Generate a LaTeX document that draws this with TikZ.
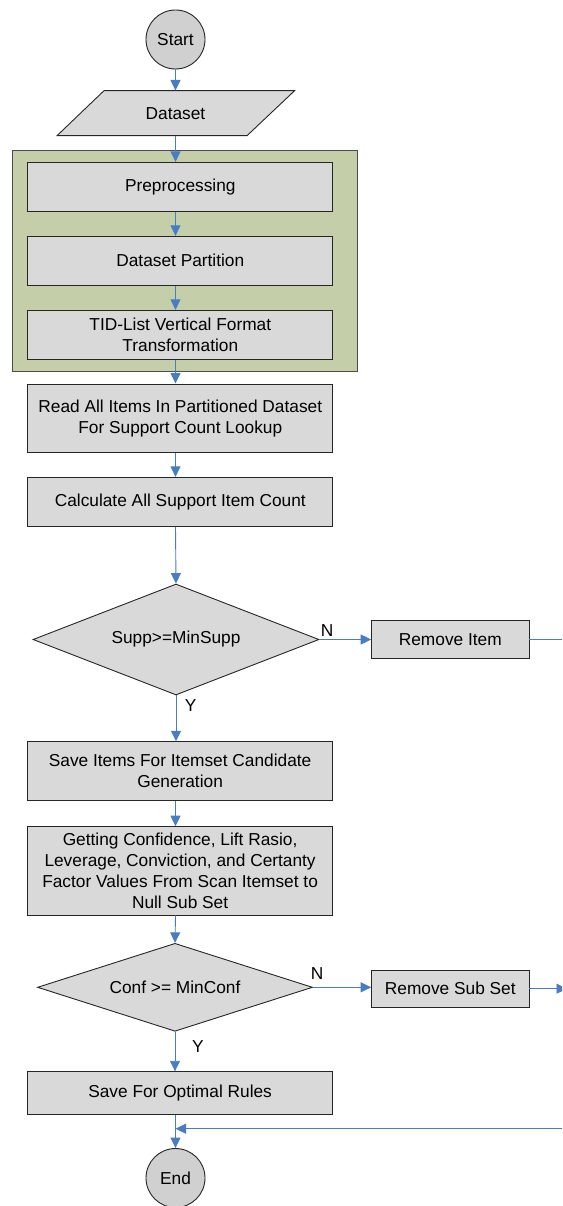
\documentclass[tikz,border=0pt]{standalone}
\usepackage{fontspec}
\setmainfont{Liberation Sans}
\usetikzlibrary{arrows.meta,shapes.geometric}
\definecolor{boxgray}{RGB}{217,217,217}
\definecolor{circgray}{RGB}{208,208,208}
\definecolor{panelgreen}{RGB}{196,206,168}
\definecolor{arrblue}{RGB}{72,125,198}
\begin{document}
\begin{tikzpicture}[x=1pt,y=-1pt,
  font=\fontsize{17.3}{20.8}\selectfont,
  shapeborder/.style={draw=black!85, line width=0.9pt},
  proc/.style={shapeborder, fill=boxgray, rectangle, minimum width=305pt, inner sep=0pt, align=center},
  sideproc/.style={shapeborder, fill=boxgray, rectangle, minimum width=157.3pt, inner sep=0pt, align=center},
  term/.style={shapeborder, fill=circgray, circle, minimum size=59pt, inner sep=0pt},
  decision/.style={shapeborder, fill=boxgray, diamond, inner sep=0pt},
  panel/.style={draw=black!70, line width=0.9pt, fill=panelgreen, rectangle, inner sep=0pt},
  conn/.style={draw=arrblue, line width=0.9pt},
  arr/.style={conn, -{Triangle[length=10.5pt,width=10pt]}},
  lbl/.style={inner sep=0pt}
]
\useasboundingbox (0,0) rectangle (562,1206);
\clip (0,0) rectangle (562,1206);

% panel
\node[panel, minimum width=344.3pt, minimum height=221.3pt] (panel) at (184.85,260.65) {};

% terminals and input
\node[term] (start) at (175.5,39.5) {Start};
\draw[shapeborder, fill=boxgray] (104,90.7) -- (294.6,90.7) -- (247,135.7) -- (57,135.7) -- cycle;
\node[inner sep=0pt, minimum width=190pt, minimum height=45pt] (data) at (175.5,113.2) {Dataset};

% process boxes
\node[proc, minimum height=49pt] (pre) at (180.3,186.8) {Preprocessing};
\node[proc, minimum height=49pt] (part) at (180.3,260.8) {Dataset Partition};
\node[proc, minimum height=48.7pt] (tid) at (180.3,334.7) {TID-List Vertical Format\\Transformation};
\node[proc, minimum height=68.7pt] (read) at (180.3,418.3) {Read All Items In Partitioned Dataset\\For Support Count Lookup};
\node[proc, minimum height=49pt] (calc) at (180.3,501.8) {Calculate All Support Item Count};

\node[decision, minimum width=286pt, minimum height=111pt, aspect=2.6] (supp) at (176,639.5) {Supp>=MinSupp};
\node[sideproc, minimum height=38pt] (rmi) at (450.3,639.7) {Remove Item};

\node[proc, minimum width=305pt, minimum height=58.6pt] (save) at (180.1,771) {Save Items For Itemset Candidate\\Generation};
\node[proc, minimum width=305pt, minimum height=88.3pt] (get) at (180.1,870.8) {Getting Confidence, Lift Rasio,\\Leverage, Conviction, and Certanty\\Factor Values From Scan Itemset to\\Null Sub Set};

\node[decision, minimum width=275pt, minimum height=88pt, aspect=3.1] (conf) at (175,987.3) {Conf >= MinConf};
\node[sideproc, minimum height=37.3pt] (rss) at (450.3,988.7) {Remove Sub Set};

\node[proc, minimum width=305pt, minimum height=42.3pt] (opt) at (180.1,1092.9) {Save For Optimal Rules};
\node[term] (end) at (175.5,1178) {End};

% off-picture ends
\coordinate (rmiR) at (566,639.7);
\coordinate (rssR) at (567,988.7);
\coordinate (fbR) at (570,1128.7);

% connectors
\draw[arr] (start) -- (data);
\draw[arr] (data.south) -- (pre.north -| data.south);
\draw[arr] (pre.south -| start) -- (part.north -| start);
\draw[arr] (part.south -| start) -- (tid.north -| start);
\draw[arr] (tid.south -| start) -- (read.north -| start);
\draw[arr] (read.south -| start) -- (calc.north -| start);
\draw[arr] (calc.south -| start) -- (supp.north);
\draw[arr] (supp.east) -- (supp.east -| rmi.west);
\draw[conn] (rmi.east) -- (rmiR);
\draw[arr] (supp.south) -- (save.north -| supp.south);
\draw[arr] (save.south -| start) -- (get.north -| start);
\draw[arr] (get.south -| start) -- (conf.north);
\draw[arr] (conf.east) -- (conf.east -| rss.west);
\draw[arr] (rss.east) -- (rssR);
\draw[arr] (conf.south) -- (opt.north -| conf.south);
\draw[arr] (opt.south -| end) -- (end);
\draw[arr] (fbR) -- (fbR -| end);

% branch labels
\node[lbl] (n1) at (327,630.7) {N};
\node[lbl] (y1) at (190.7,705.7) {Y};
\node[lbl] (n2) at (317,974) {N};
\node[lbl] (y2) at (198,1046.5) {Y};
\end{tikzpicture}
\end{document}
